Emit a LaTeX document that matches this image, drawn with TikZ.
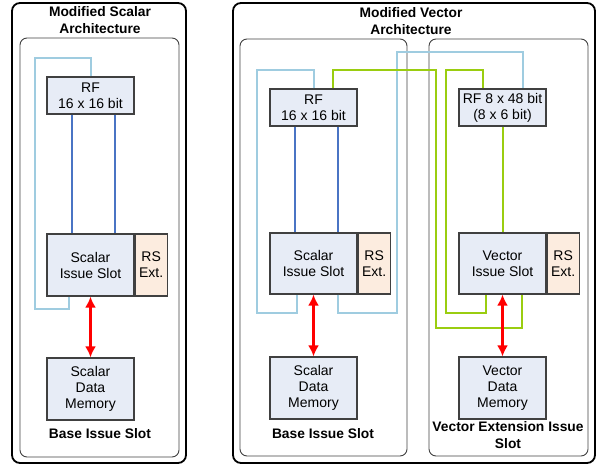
\documentclass[tikz,border=0pt]{standalone}
\usepackage{fontspec}
\setmainfont{Liberation Sans}
\usetikzlibrary{arrows.meta}
\definecolor{boxfill}{HTML}{E7ECF6}
\definecolor{rsfill}{HTML}{FCECDF}
\definecolor{boxline}{HTML}{404040}
\definecolor{lblue}{HTML}{9FCCE0}
\definecolor{dblue}{HTML}{4A74C4}
\definecolor{lgreen}{HTML}{9ACD10}
\tikzset{
  unit/.style={draw=boxline, line width=1.2pt, fill=boxfill, align=center,
    inner sep=0pt, minimum width=87pt, font=\fontsize{14}{16}\selectfont},
  rsbox/.style={unit, fill=rsfill, minimum width=32pt},
  outerframe/.style={draw=black, line width=1.8pt, rounded corners=8pt},
  innerframe/.style={draw=boxline, line width=0.9pt, rounded corners=7pt},
  title/.style={align=center, inner sep=0pt, font=\bfseries\fontsize{13.8}{17}\selectfont},
  lbwire/.style={draw=lblue, line width=2pt},
  dbwire/.style={draw=dblue, line width=2pt},
  gwire/.style={draw=lgreen, line width=2pt},
  memlink/.style={draw=red, line width=2.8pt, {Latex[length=11pt,width=11pt]}-{Latex[length=11pt,width=11pt]}}
}
\begin{document}
\begin{tikzpicture}[x=1pt, y=-1pt]
\useasboundingbox (0,0) rectangle (601,465);

% frames
\draw[outerframe] (12,3) rectangle (186,463);
\draw[innerframe] (20,38) rectangle (179,457);
\draw[outerframe] (233,3) rectangle (595,463);
\draw[innerframe] (240,39) rectangle (407,456);
\draw[innerframe] (429,39) rectangle (588,456);

\node[title] (t1) at (100,20.5) {Modified Scalar\\Architecture};
\node[title] (t2) at (411,21) {Modified Vector\\Architecture};
\node[title] (b1) at (100,434) {Base Issue Slot};
\node[title] (b2) at (323,434) {Base Issue Slot};
\node[title] (b3) at (508,435) {Vector Extension Issue\\Slot};

% modified scalar architecture
\node[unit, minimum height=37pt] (rf1) at (90.5,95.5) {RF\\16 x 16 bit};
\node[unit, minimum height=62pt] (sis1) at (90.5,265) {Scalar\\Issue Slot};
\node[rsbox, minimum height=62pt, anchor=west] (rs1) at (sis1.east) {RS\\Ext.};
\node[unit, minimum height=62pt] (sdm1) at (90.5,389) {Scalar\\Data\\Memory};

% modified vector architecture, base slot
\node[unit, minimum height=37pt] (rf2) at (313.5,107.5) {RF\\16 x 16 bit};
\node[unit, minimum height=61pt] (sis2) at (313.5,263.5) {Scalar\\Issue Slot};
\node[rsbox, minimum height=61pt, anchor=west] (rs2) at (sis2.east) {RS\\Ext.};
\node[unit, minimum height=62pt] (sdm2) at (313.5,388) {Scalar\\Data\\Memory};

% vector extension slot
\node[unit, minimum height=37pt] (rf3) at (502.5,107.5) {RF 8 x 48 bit\\(8 x 6 bit)};
\node[unit, minimum height=61pt] (vis) at (502.5,263.5) {Vector\\Issue Slot};
\node[rsbox, minimum height=61pt, anchor=west] (rs3) at (vis.east) {RS\\Ext.};
\node[unit, minimum height=62pt] (vdm) at (502.5,388) {Vector\\Data\\Memory};

% register file read ports
\draw[dbwire] ([xshift=-18.5pt]rf1.south) -- ([xshift=-18.5pt]sis1.north);
\draw[dbwire] ([xshift=24.5pt]rf1.south) -- ([xshift=24.5pt]sis1.north);
\draw[dbwire] ([xshift=-18.5pt]rf2.south) -- ([xshift=-18.5pt]sis2.north);
\draw[dbwire] ([xshift=24.5pt]rf2.south) -- ([xshift=24.5pt]sis2.north);
\draw[gwire] (rf3.south) -- (vis.north);

% write-back paths
\draw[lbwire] (rf1.north) |- (35,58) -- (35,309) -| ([xshift=-21.5pt]sis1.south);
\draw[lbwire] (rf2.north) |- (257,70) -- (257,313) -| ([xshift=-16.5pt]sis2.south);
\draw[lbwire] ([xshift=24.5pt]sis2.south) |- (397,313) -- (397,52) -| ([xshift=20.5pt]rf3.north);
\draw[gwire] ([xshift=19.5pt]rf2.north) |- (436,70) -- (436,328) -| ([xshift=19.5pt]vis.south);
\draw[gwire] ([xshift=-19.5pt]rf3.north) |- (446,70) -- (446,313) -| ([xshift=-16.5pt]vis.south);

% memory links
\draw[memlink] (sis1.south) -- (sdm1.north);
\draw[memlink] (sis2.south) -- (sdm2.north);
\draw[memlink] (vis.south) -- (vdm.north);
\end{tikzpicture}
\end{document}
